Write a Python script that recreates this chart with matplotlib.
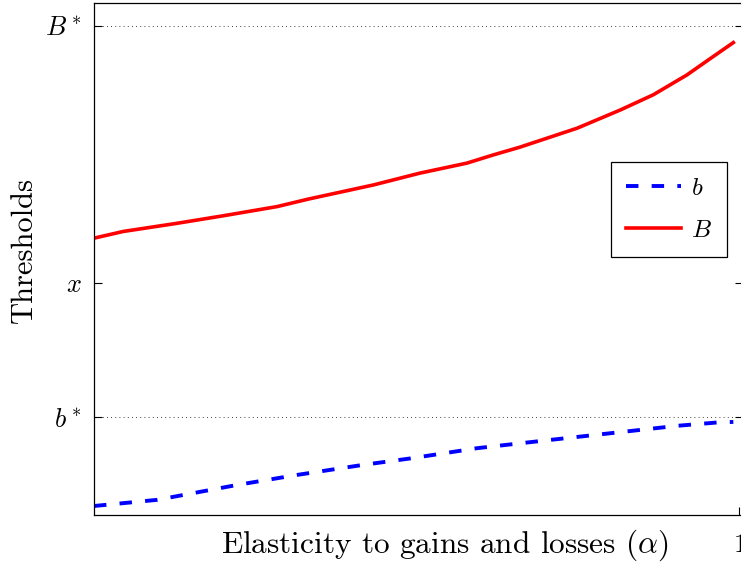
import matplotlib.pyplot as plt
import numpy as np

plt.rcParams['mathtext.fontset'] = 'cm'
plt.rcParams['font.family'] = 'cmr10'
plt.rcParams['axes.formatter.use_mathtext'] = True

# thresholds against elasticity alpha
alpha_B = np.array([0, 0.045, 0.129, 0.200, 0.284, 0.332, 0.433, 0.505, 0.578,
                    0.619, 0.660, 0.749, 0.816, 0.867, 0.919, 0.960, 0.991])
B = np.array([1.174, 1.200, 1.232, 1.261, 1.297, 1.326, 1.381, 1.427, 1.466,
              1.498, 1.528, 1.602, 1.673, 1.732, 1.809, 1.881, 1.935])

alpha_b = np.array([0, 0.098, 0.222, 0.315, 0.417, 0.490, 0.594, 0.696,
                    0.800, 0.904, 0.971, 0.991])
b = np.array([0.132, 0.156, 0.214, 0.253, 0.292, 0.317, 0.357, 0.386,
              0.415, 0.444, 0.458, 0.459])

b_star = 0.477
x0 = 1.0
B_star = 2.0
ytick_labels = [r'$b^*$', r'$x$', r'$B^*$']

fig = plt.figure(figsize=(7.41, 5.62), dpi=100)
ax = fig.add_axes([94 / 741, 47 / 562, 649 / 741, 512 / 562])

ax.axhline(B_star, color='k', ls=(0, (1, 4)), lw=0.6)
ax.axhline(b_star, color='k', ls=(0, (1, 4)), lw=0.6)

ax.plot(alpha_b, b, color='blue', lw=2.8, ls=(0, (3.2, 3.4)), label=r'$b$')
ax.plot(alpha_B, B, color='red', lw=2.6, label=r'$B$')

ax.set_xlim(0, 1.006)
ax.set_ylim(0.097, 2.089)
ax.set_xticks([1])
ax.set_xticklabels([r'$1$'])
ax.set_yticks([b_star, x0, B_star])
ax.set_yticklabels(ytick_labels)
ax.tick_params(direction='in', right=True, length=6, labelsize=19, pad=9)
ax.tick_params(axis='x', pad=13)

for s in ax.spines.values():
    s.set_linewidth(0.9)

fig.text(445 / 741, 1 - 545 / 562, r'Elasticity to gains and losses ($\alpha$)',
         fontsize=22.5, ha='center', va='center')
fig.text(24 / 741, 1 - 250 / 562, 'Thresholds', fontsize=22, rotation=90,
         ha='center', va='center')

leg = ax.legend(loc='upper left', bbox_to_anchor=(611 / 741, 1 - 162 / 562),
                bbox_transform=fig.transFigure, fontsize=18, fancybox=False,
                edgecolor='k', framealpha=1, handlelength=2.2, borderpad=0.6,
                labelspacing=0.8, handletextpad=0.4, borderaxespad=0)
leg.get_frame().set_linewidth(0.9)

fig.savefig('out.png', dpi=100)
